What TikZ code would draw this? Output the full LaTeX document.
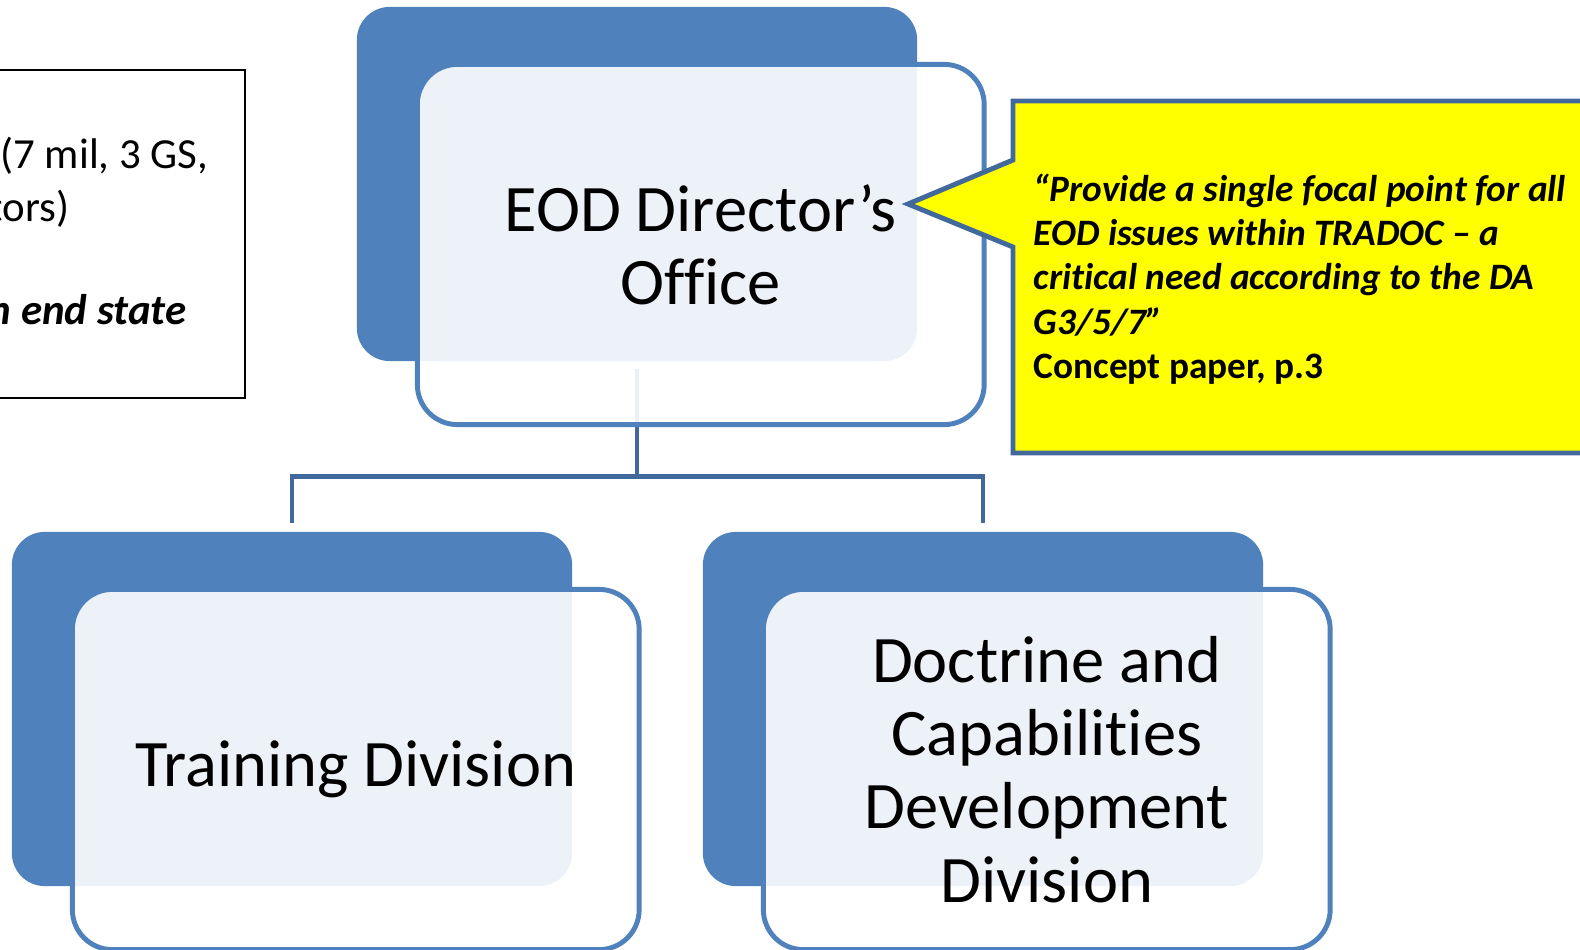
\documentclass[tikz,border=0pt]{standalone}
\usepackage{fontspec}
\setmainfont[Ligatures=NoCommon]{Carlito}
\usetikzlibrary{calc}
\definecolor{ofcblue}{HTML}{4F81BD}
\definecolor{linkblue}{HTML}{41699B}
\definecolor{noteyellow}{RGB}{255,255,0}

\begin{document}
\begin{tikzpicture}[x=0.01cm,y=-0.01cm,
  backbox/.style={fill=ofcblue,rounded corners=3.3mm,minimum width=5.6cm,minimum height=3.54cm,inner sep=0pt},
  frontbox/.style={draw=ofcblue,line width=1.4pt,fill=white,fill opacity=0.9,text opacity=1,rounded corners=4mm,minimum width=5.665cm,minimum height=3.6cm,align=center,font=\fontsize{18.9}{20.8}\selectfont},
  link/.style={draw=linkblue,line width=1.4pt},
  notetext/.style={anchor=east,inner sep=0pt,font=\fontsize{12.2}{14.9}\selectfont}]
\useasboundingbox (0,0) rectangle (1580,949);

% note box, cut by the left edge
\draw[line width=0.6pt] (-20,70) rectangle (245,398);
\node[notetext] (noteA) at (209,156) {(7 mil, 3 GS,};
\node[notetext] (noteB) at (70,209) {tors)};
\node[notetext,font=\fontsize{12.2}{14.9}\selectfont\bfseries\itshape] (noteC) at (187,310) {n end state};

% back boxes
\node[backbox] (dirBack) at (637,184) {};
\node[backbox] (trainBack) at (292,709) {};
\node[backbox] (doctBack) at (983,709) {};

% connectors
\coordinate (bus) at (637,476.5);
\draw[link] ([yshift=-0.07cm]dirBack.south) -- (bus);
\draw[link] (bus) -| ([yshift=0.08cm]trainBack.north);
\draw[link] (bus) -| ([yshift=0.08cm]doctBack.north);

% front boxes
\node[frontbox] (dir) at (700.75,244.5) {EOD Director’s\\Office};
\node[frontbox] (train) at (355.75,769.5) {Training Division};
\node[frontbox] (doct) at (1046.75,769.5) {Doctrine and\\Capabilities\\Development\\Division};

% callout, pointing at the director's box
\coordinate (tip) at (908,204);
\filldraw[fill=noteyellow,draw=linkblue,line width=1.4pt] (1013,101) -- (1600,101) -- (1600,453) -- (1013,453) -- (1013,247) -- (tip) -- (1013,160) -- cycle;
\node[anchor=north west,inner sep=0pt,align=left,font=\fontsize{10.6}{12.6}\selectfont\bfseries\itshape] (quote) at (1033,173)
  {“Provide a single focal point for all\\EOD issues within TRADOC – a\\critical need according to the DA\\G3/5/7”\\{\upshape Concept paper, p.3}};
\end{tikzpicture}
\end{document}
